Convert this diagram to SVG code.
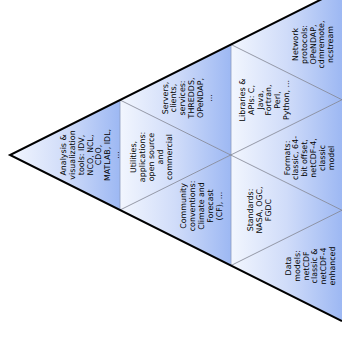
<svg xmlns="http://www.w3.org/2000/svg" width="342" height="338" viewBox="0 0 342 338">
<defs>
<linearGradient id="g" x1="0" y1="0" x2="1" y2="0">
<stop offset="0" stop-color="#f2f6fe"/>
<stop offset="0.5" stop-color="#d0dcf9"/>
<stop offset="1" stop-color="#9db8f3"/>
</linearGradient>
</defs>
<style>
.tri{fill:url(#g);stroke:none}
.t{font-family:"DejaVu Sans",sans-serif;font-size:7.9px;text-anchor:middle;fill:#000}
.inner{stroke:#7d8290;stroke-width:0.8;fill:none}
.vert{stroke:#8e9cc0;stroke-width:0.8;fill:none}
.outer{stroke:#000;stroke-width:2;fill:none;stroke-linejoin:miter}
</style>
<rect width="342" height="338" fill="#fff"/>
<g id="n-analysis">
<polygon class="tri" points="10,155 120,100 120,210"/>
<text class="t" transform="translate(89.5,155) rotate(-90)"><tspan x="0" y="-23.4">Analysis &amp;</tspan><tspan x="0" y="-14.6">visualization</tspan><tspan x="0" y="-5.8">tools: IDV,</tspan><tspan x="0" y="3">NCO, NCL,</tspan><tspan x="0" y="11.8">CDO,</tspan><tspan x="0" y="20.6">MATLAB, IDL,</tspan><tspan x="0" y="29.4">...</tspan></text>
</g>
<g id="n-servers">
<polygon class="tri" points="120,100 231,44.5 231,155"/>
<text class="t" transform="translate(186.5,98) rotate(-90)"><tspan x="0" y="-19">Servers,</tspan><tspan x="0" y="-10.2">clients,</tspan><tspan x="0" y="-1.4">services:</tspan><tspan x="0" y="7.4">THREDDS,</tspan><tspan x="0" y="16.2">OPeNDAP,</tspan><tspan x="0" y="25">...</tspan></text>
</g>
<g id="n-utilities">
<polygon class="tri" points="120,100 120,210 231,155"/>
<text class="t" transform="translate(151,157) rotate(-90)"><tspan x="0" y="-14.6">Utilities,</tspan><tspan x="0" y="-5.8">applications:</tspan><tspan x="0" y="3">open source</tspan><tspan x="0" y="11.8">and</tspan><tspan x="0" y="20.6">commercial</tspan></text>
</g>
<g id="n-community">
<polygon class="tri" points="120,210 231,155 231,265.5"/>
<text class="t" transform="translate(201,206) rotate(-90)"><tspan x="0" y="-14.6">Community</tspan><tspan x="0" y="-5.8">conventions:</tspan><tspan x="0" y="3">Climate and</tspan><tspan x="0" y="11.8">Forecast</tspan><tspan x="0" y="20.6">(CF), ...</tspan></text>
</g>
<g id="n-network">
<polygon class="tri" points="231,44.5 342,-11 342,99.75"/>
<text class="t" transform="translate(312.5,44.5) rotate(-90)"><tspan x="0" y="-14.6">Network</tspan><tspan x="0" y="-5.8">protocols:</tspan><tspan x="0" y="3">OPeNDAP,</tspan><tspan x="0" y="11.8">cdmremote,</tspan><tspan x="0" y="20.6">ncstream</tspan></text>
</g>
<g id="n-libraries">
<polygon class="tri" points="231,44.5 231,155 342,99.75"/>
<text class="t" transform="translate(264,100) rotate(-90)"><tspan x="0" y="-19">Libraries &amp;</tspan><tspan x="0" y="-10.2">APIs: C,</tspan><tspan x="0" y="-1.4">Java,</tspan><tspan x="0" y="7.4">Fortran,</tspan><tspan x="0" y="16.2">Perl,</tspan><tspan x="0" y="25">Python, ...</tspan></text>
</g>
<g id="n-formats">
<polygon class="tri" points="231,155 342,99.75 342,210.25"/>
<text class="t" transform="translate(308.5,158) rotate(-90)"><tspan x="0" y="-19">Formats:</tspan><tspan x="0" y="-10.2">classic, 64-</tspan><tspan x="0" y="-1.4">bit offset,</tspan><tspan x="0" y="7.4">netCDF-4,</tspan><tspan x="0" y="16.2">classic</tspan><tspan x="0" y="25">model</tspan></text>
</g>
<g id="n-standards">
<polygon class="tri" points="231,155 231,265.5 342,210.25"/>
<text class="t" transform="translate(259,210) rotate(-90)"><tspan x="0" y="-5.8">Standards:</tspan><tspan x="0" y="3">NASA, OGC,</tspan><tspan x="0" y="11.8">FGDC</tspan></text>
</g>
<g id="n-datamodels">
<polygon class="tri" points="231,265.5 342,210.25 342,321"/>
<text class="t" transform="translate(310,266) rotate(-90)"><tspan x="0" y="-19">Data</tspan><tspan x="0" y="-10.2">models:</tspan><tspan x="0" y="-1.4">netCDF</tspan><tspan x="0" y="7.4">classic &amp;</tspan><tspan x="0" y="16.2">netCDF-4</tspan><tspan x="0" y="25">enhanced</tspan></text>
</g>
<g id="connectors">
<line class="vert" x1="120" y1="100" x2="120" y2="210"/>
<line class="vert" x1="231" y1="44.5" x2="231" y2="265.5"/>
<line class="inner" x1="120" y1="100" x2="342" y2="210.25"/>
<line class="inner" x1="120" y1="210" x2="342" y2="99.75"/>
<line class="inner" x1="231" y1="44.5" x2="342" y2="99.75"/>
<line class="inner" x1="231" y1="265.5" x2="342" y2="210.25"/>
<polyline class="outer" points="342,-11 10,155 342,321"/>
</g>
</svg>
